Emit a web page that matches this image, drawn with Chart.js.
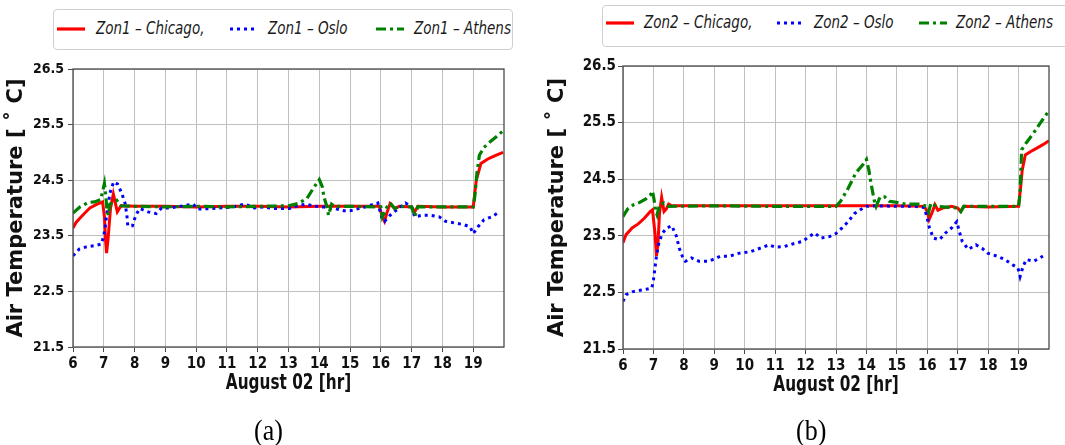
<!DOCTYPE html>
<html>
<head>
<meta charset="utf-8">
<script src="https://cdn.jsdelivr.net/npm/chart.js@4/dist/chart.umd.min.js"></script>
<style>
  html, body { margin: 0; padding: 0; background: #fff; width: 1065px; height: 445px; overflow: hidden; }
  body { position: relative; }
  canvas { position: absolute; top: 0; }
  #chartA { left: 0; }
  #chartB { left: 532px; }
  .legend { position: absolute; border: 1px solid #cfcfcf; border-radius: 4px; background: #fff; box-sizing: border-box; }
  .legend svg { position: absolute; overflow: visible; }
  .legend span { position: absolute; font: italic 15px 'DejaVu Sans Condensed', 'DejaVu Sans', sans-serif; color: #1a1a1a; white-space: nowrap; line-height: 18px; transform: scaleY(1.2); transform-origin: 0 50%; }
  .cap { position: absolute; top: 416px; font: 26px 'Liberation Serif', 'Times New Roman', serif; color: #000; transform: scaleY(1.12); transform-origin: 50% 50%; }
</style>
</head>
<body>
<canvas id="chartA" width="532" height="445"></canvas>
<canvas id="chartB" width="533" height="445"></canvas>
<div id="legA" class="legend"></div>
<div id="legB" class="legend"></div>
<div class="cap" style="left:254px">(a)</div>
<div class="cap" style="left:796px">(b)</div>

<script>
// ---- axis ticks ----
const xTicks = [6, 7, 8, 9, 10, 11, 12, 13, 14, 15, 16, 17, 18, 19];
const yTicks = [21.5, 22.5, 23.5, 24.5, 25.5, 26.5];

// ---- legend labels ----
const namesA = ['Zon1 – Chicago,', 'Zon1 – Oslo', 'Zon1 – Athens'];
const namesB = ['Zon2 – Chicago,', 'Zon2 – Oslo', 'Zon2 – Athens'];

// ---- Zone 1 (a) ----
const chiA_hr = [6.0, 6.1, 6.23, 6.4, 6.55, 6.75, 6.96, 7.02, 7.06, 7.09, 7.14, 7.22, 7.31, 7.44, 7.56, 8, 9, 10, 11, 12, 13, 14, 15, 15.95, 16.05, 16.12, 16.2, 16.3, 16.45, 16.6, 17.0, 17.1, 17.2, 18, 19.0, 19.1, 19.25, 19.5, 19.75, 19.97];
const chiA_t  = [23.64, 23.74, 23.82, 23.92, 24.0, 24.06, 24.11, 23.85, 23.4, 23.19, 23.45, 24.0, 24.25, 23.93, 24.04, 24.03, 24.03, 24.02, 24.03, 24.03, 24.02, 24.03, 24.03, 24.03, 23.84, 23.76, 23.92, 24.08, 23.99, 24.03, 24.02, 23.93, 24.03, 24.02, 24.02, 24.5, 24.8, 24.89, 24.95, 25.0];

const osloA_hr = [6.0, 6.2, 6.43, 6.68, 6.92, 7.0, 7.05, 7.1, 7.2, 7.32, 7.45, 7.58, 7.69, 7.75, 7.78, 7.93, 8.04, 8.17, 8.44, 8.7, 8.88, 9.15, 9.58, 9.9, 10.06, 10.5, 11.0, 11.3, 11.58, 11.9, 12.2, 12.5, 12.8, 13.02, 13.3, 13.57, 13.85, 14.1, 14.5, 14.8, 15.0, 15.5, 15.9, 16.05, 16.12, 16.3, 16.5, 16.8, 17.0, 17.1, 17.35, 17.6, 17.9, 18.1, 18.4, 18.7, 18.9, 19.0, 19.15, 19.35, 19.6, 19.85];
const osloA_t  = [23.14, 23.26, 23.3, 23.32, 23.35, 23.5, 23.68, 23.9, 24.27, 24.47, 24.43, 24.27, 24.09, 23.87, 23.68, 23.68, 23.87, 23.99, 23.93, 23.9, 24.0, 24.0, 24.04, 24.07, 23.98, 23.99, 24.01, 24.03, 24.07, 24.0, 24.02, 23.99, 23.99, 23.99, 24.04, 24.07, 24.03, 24.02, 23.99, 23.95, 23.95, 24.02, 24.09, 23.79, 23.76, 23.87, 23.96, 24.09, 24.02, 23.84, 23.87, 23.87, 23.84, 23.76, 23.73, 23.7, 23.66, 23.54, 23.66, 23.79, 23.84, 23.93];

const athA_hr = [6.0, 6.23, 6.5, 6.7, 6.9, 7.02, 7.07, 7.1, 7.15, 7.2, 7.42, 7.56, 8, 9, 10, 11, 12, 13.0, 13.3, 13.6, 13.8, 14.0, 14.1, 14.15, 14.25, 14.3, 14.4, 14.5, 15, 16.0, 16.05, 16.2, 16.3, 16.45, 16.6, 17.0, 17.1, 17.2, 18, 19.0, 19.05, 19.12, 19.2, 19.35, 19.55, 19.75, 19.97];
const athA_t  = [23.91, 24.02, 24.1, 24.11, 24.15, 24.44, 24.2, 23.96, 23.87, 24.07, 24.14, 24.04, 24.03, 24.02, 24.03, 24.02, 24.03, 24.04, 24.08, 24.17, 24.35, 24.51, 24.38, 24.2, 24.02, 23.87, 24.07, 24.03, 24.03, 24.02, 23.84, 24.02, 24.09, 23.99, 24.03, 24.02, 23.85, 24.02, 24.02, 24.02, 24.2, 24.62, 24.95, 25.09, 25.19, 25.28, 25.39];

// ---- Zone 2 (b) ----
const chiB_hr = [6.0, 6.1, 6.3, 6.5, 6.7, 6.9, 6.97, 7.05, 7.1, 7.15, 7.2, 7.27, 7.35, 7.42, 7.5, 7.6, 9, 11, 13, 14, 15, 15.9, 16.0, 16.06, 16.15, 16.25, 16.35, 16.5, 16.8, 17.0, 17.1, 17.2, 18.0, 19.0, 19.07, 19.12, 19.22, 19.4, 19.6, 19.8, 20.0];
const chiB_t  = [23.38, 23.52, 23.64, 23.71, 23.81, 23.93, 23.96, 23.55, 23.14, 23.37, 23.9, 24.18, 23.93, 23.97, 24.06, 24.03, 24.03, 24.03, 24.03, 24.03, 24.03, 24.02, 23.93, 23.79, 23.9, 24.05, 23.95, 23.99, 24.02, 23.99, 23.93, 24.02, 24.01, 24.02, 24.37, 24.66, 24.93, 24.99, 25.05, 25.11, 25.18];

const osloB_hr = [6.0, 6.1, 6.3, 6.5, 6.8, 6.95, 7.0, 7.05, 7.1, 7.18, 7.3, 7.45, 7.6, 7.75, 7.85, 7.95, 8.05, 8.25, 8.5, 8.8, 9.0, 9.2, 9.5, 9.8, 10.2, 10.5, 10.8, 11.0, 11.3, 11.6, 11.9, 12.1, 12.3, 12.5, 12.8, 13.0, 13.2, 13.4, 13.6, 13.8, 14.0, 14.3, 15.0, 15.6, 15.9, 16.0, 16.07, 16.2, 16.4, 16.6, 16.8, 16.97, 17.05, 17.15, 17.35, 17.6, 17.8, 18.0, 18.3, 18.55, 18.8, 18.98, 19.05, 19.15, 19.25, 19.5, 19.8];
const osloB_t  = [22.34, 22.46, 22.51, 22.53, 22.56, 22.58, 22.72, 22.93, 23.14, 23.38, 23.55, 23.64, 23.68, 23.5, 23.28, 23.14, 23.05, 23.11, 23.05, 23.05, 23.09, 23.14, 23.14, 23.19, 23.22, 23.28, 23.34, 23.3, 23.31, 23.36, 23.4, 23.48, 23.55, 23.46, 23.49, 23.54, 23.64, 23.75, 23.89, 23.96, 24.02, 24.03, 24.02, 24.02, 24.0, 23.81, 23.64, 23.46, 23.43, 23.55, 23.64, 23.75, 23.58, 23.4, 23.26, 23.34, 23.28, 23.19, 23.14, 23.08, 22.99, 22.93, 22.78, 22.96, 23.08, 23.05, 23.14];

const athB_hr = [6.0, 6.15, 6.35, 6.55, 6.75, 6.9, 6.97, 7.02, 7.08, 7.12, 7.2, 7.35, 7.5, 9, 11, 13.0, 13.15, 13.4, 13.65, 13.9, 14.0, 14.08, 14.15, 14.25, 14.32, 14.45, 14.6, 14.75, 15.0, 15.3, 15.7, 16.0, 16.05, 16.12, 16.3, 17.0, 17.1, 17.2, 18.0, 19.0, 19.05, 19.1, 19.25, 19.5, 19.75, 20.0];
const athB_t  = [23.84, 23.97, 24.05, 24.09, 24.15, 24.22, 24.29, 24.14, 23.93, 23.87, 24.05, 24.08, 24.02, 24.03, 24.02, 24.02, 24.11, 24.34, 24.61, 24.77, 24.85, 24.66, 24.43, 24.14, 24.02, 24.19, 24.19, 24.11, 24.09, 24.06, 24.06, 24.02, 23.93, 24.08, 24.02, 23.99, 23.93, 24.02, 24.02, 24.02, 24.25, 25.02, 25.14, 25.32, 25.52, 25.71];

// ---- shared styling ----
const RED = '#ff0000', BLUE = '#0000ff', GREEN = '#008000';
const STYLES = [
  { color: RED,   dash: [],            width: 3,   order: 2 },
  { color: BLUE,  dash: [3, 4],        width: 3,   order: 1 },
  { color: GREEN, dash: [10, 4, 3, 4], width: 3.2, order: 0 }
];
const X_TITLE = 'August 02 [hr]';
const Y_TITLE = 'Air Temperature [ ˚ C]';

function pairs(hr, t) { return hr.map((h, i) => ({ x: h, y: t[i] })); }

// frame around the plotting area (all four spines)
const frame = {
  id: 'frame',
  afterDraw(chart) {
    const { ctx, chartArea: a } = chart;
    ctx.save();
    ctx.strokeStyle = '#4a4a4a';
    ctx.lineWidth = 1.3;
    ctx.strokeRect(a.left, a.top, a.right - a.left, a.bottom - a.top);
    ctx.restore();
  }
};

// axis titles; the x title uses a slightly tall letterform
const axisTitles = {
  id: 'axisTitles',
  afterDraw(chart, args, o) {
    const { ctx, chartArea: a } = chart;
    ctx.save();
    ctx.fillStyle = '#111';
    ctx.textAlign = 'center';
    ctx.textBaseline = 'middle';

    ctx.save();
    ctx.translate((a.left + a.right) / 2, a.bottom + o.xGap);
    ctx.scale(1, 1.22);
    ctx.font = "bold 17px 'DejaVu Sans Condensed', 'DejaVu Sans', sans-serif";
    ctx.fillText(X_TITLE, 0, 0);
    ctx.restore();

    ctx.save();
    ctx.translate(a.left - o.yGap, (a.top + a.bottom) / 2);
    ctx.rotate(-Math.PI / 2);
    ctx.font = "bold 21px 'DejaVu Sans', sans-serif";
    ctx.fillText(Y_TITLE, 0, 0);
    ctx.restore();

    ctx.restore();
  }
};

function makeChart(id, series, names, lay) {
  const datasets = series.map((s, i) => ({
    label: names[i],
    data: pairs(s[0], s[1]),
    borderColor: STYLES[i].color,
    backgroundColor: STYLES[i].color,
    borderDash: STYLES[i].dash,
    borderWidth: STYLES[i].width,
    order: STYLES[i].order,
    pointRadius: 0,
    tension: 0,
    fill: false
  }));
  const tickFont = { family: "'DejaVu Sans Condensed', 'DejaVu Sans'", weight: 'bold' };
  return new Chart(document.getElementById(id), {
    type: 'line',
    data: { datasets },
    plugins: [frame, axisTitles],
    options: {
      responsive: false,
      animation: false,
      devicePixelRatio: 1,
      layout: { padding: lay.pad },
      plugins: {
        legend: { display: false },
        tooltip: { enabled: false },
        axisTitles: { xGap: 37, yGap: lay.yGap }
      },
      scales: {
        x: {
          type: 'linear', min: 6, max: 20,
          afterBuildTicks: s => { s.ticks = xTicks.map(v => ({ value: v })); },
          afterFit: s => { s.height = 50; },
          border: { display: false },
          grid: { color: '#bfbfbf', lineWidth: 1, tickColor: '#4a4a4a', tickLength: 5, drawTicks: true },
          ticks: { color: '#111', padding: 3, maxRotation: 0, autoSkip: false,
                   font: Object.assign({ size: 15 }, tickFont),
                   callback: v => String(v) }
        },
        y: {
          type: 'linear', min: 21.5, max: 26.5,
          afterBuildTicks: s => { s.ticks = yTicks.map(v => ({ value: v })); },
          afterFit: s => { s.width = lay.yW; },
          border: { display: false },
          grid: { color: '#bfbfbf', lineWidth: 1, tickColor: '#4a4a4a', tickLength: 5, drawTicks: true },
          ticks: { color: '#111', padding: lay.yTickPad,
                   font: Object.assign({ size: lay.yTickSize }, tickFont),
                   callback: v => v.toFixed(1) }
        }
      }
    }
  });
}

makeChart('chartA',
  [[chiA_hr, chiA_t], [osloA_hr, osloA_t], [athA_hr, athA_t]], namesA,
  { pad: { left: 0, right: 28, top: 69, bottom: 48 }, yW: 73, yTickPad: 4, yTickSize: 14, yGap: 56 });

makeChart('chartB',
  [[chiB_hr, chiB_t], [osloB_hr, osloB_t], [athB_hr, athB_t]], namesB,
  { pad: { left: 10, right: 16, top: 66, bottom: 46 }, yW: 81, yTickPad: 2, yTickSize: 15, yGap: 65 });

// ---- legends ----
function buildLegend(id, box, names, sampleX, textX, midY) {
  const el = document.getElementById(id);
  Object.assign(el.style, { left: box[0] + 'px', top: box[1] + 'px', width: box[2] + 'px', height: box[3] + 'px' });
  names.forEach((n, i) => {
    const st = STYLES[i];
    const svg = document.createElementNS('http://www.w3.org/2000/svg', 'svg');
    svg.setAttribute('width', '30'); svg.setAttribute('height', '8');
    svg.style.left = sampleX[i] + 'px'; svg.style.top = (midY - 4) + 'px';
    const ln = document.createElementNS('http://www.w3.org/2000/svg', 'line');
    ln.setAttribute('x1', '0'); ln.setAttribute('x2', '28');
    ln.setAttribute('y1', '4'); ln.setAttribute('y2', '4');
    ln.setAttribute('stroke', st.color); ln.setAttribute('stroke-width', '3.2');
    if (st.dash.length) ln.setAttribute('stroke-dasharray', st.dash.join(' '));
    svg.appendChild(ln);
    el.appendChild(svg);
    const sp = document.createElement('span');
    sp.textContent = n;
    sp.style.left = textX[i] + 'px'; sp.style.top = (midY - 10) + 'px';
    el.appendChild(sp);
  });
}
buildLegend('legA', [53, 9, 460, 41], namesA, [3, 176, 322], [42, 214, 360], 19);
buildLegend('legB', [602, 5, 480, 42], namesB, [3, 174, 316], [41, 211, 353], 17);
</script>
</body>
</html>
